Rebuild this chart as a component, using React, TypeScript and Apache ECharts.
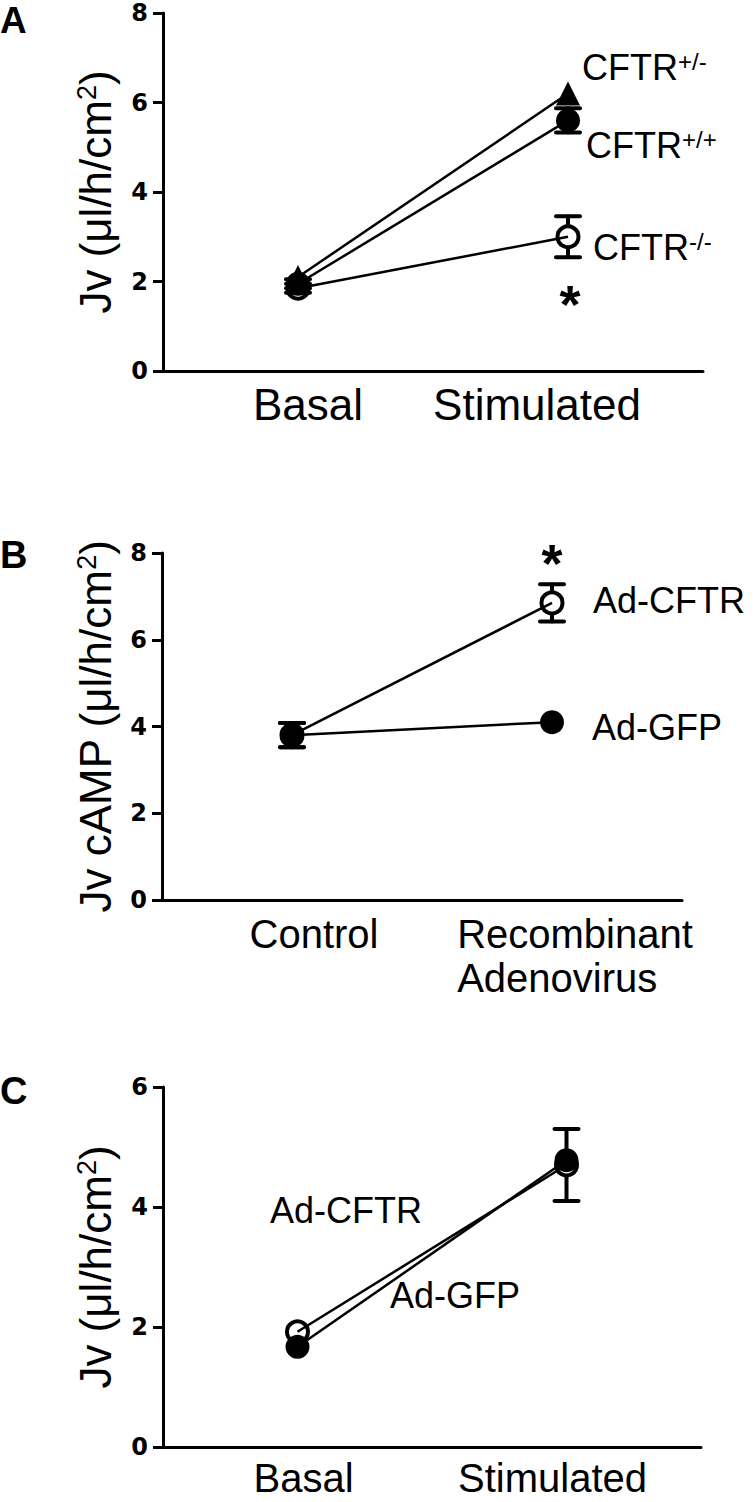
import React, { useEffect, useRef } from "react";
import * as echarts from "echarts";

// ---------- data ----------
const catsA = ["Basal", "Stimulated"];
const aWT = [1.95, 5.6];
const aWTErr = [0.1, 0.27];
const aHet = [2.1, 6.2];
const aHetErr = [0, 0];
const aKO = [1.85, 3.0];
const aKOErr = [0.1, 0.46];

const catsB = ["Control", "Recombinant\nAdenovirus"];
const bCFTR = [3.8, 6.85];
const bCFTRErr = [0.28, 0.43];
const bGFP = [3.8, 4.1];
const bGFPErr = [0.28, 0];

const catsC = ["Basal", "Stimulated"];
const cCFTR = [1.92, 4.7];
const cCFTRErr = [0, 0.6];
const cGFP = [1.67, 4.78];
const cGFPErr = [0, 0];

const ticksA = [0, 2, 4, 6, 8];
const ticksC = [0, 2, 4, 6];

const FONT = "'Liberation Sans', Arial, Helvetica, sans-serif";
const SYM = 24;
const R = SYM / 2;

function errData(means: number[], errs: number[]) {
  const out: number[][] = [];
  means.forEach((m, i) => {
    if (errs[i] > 0) out.push([i, m, errs[i]]);
  });
  return out;
}

function errRender(params: any, api: any) {
  const xi = api.value(0);
  const m = api.value(1);
  const e = api.value(2);
  const c = api.coord([xi, m]);
  const t = api.coord([xi, m + e]);
  const b = api.coord([xi, m - e]);
  const half = 12;
  const style = { stroke: "#000", lineWidth: 4, lineCap: "round" };
  const children: any[] = [
    { type: "line", shape: { x1: c[0] - half, y1: t[1], x2: c[0] + half, y2: t[1] }, style },
    { type: "line", shape: { x1: c[0] - half, y1: b[1], x2: c[0] + half, y2: b[1] }, style },
  ];
  if (t[1] < c[1] - R) {
    children.push({ type: "line", shape: { x1: c[0], y1: t[1], x2: c[0], y2: c[1] - R }, style });
  }
  if (b[1] > c[1] + R) {
    children.push({ type: "line", shape: { x1: c[0], y1: c[1] + R, x2: c[0], y2: b[1] }, style });
  }
  return { type: "group", children };
}

function lineSeries(idx: number, data: number[], kind: "filled" | "open" | "tri", z = 3) {
  const open = kind === "open";
  return {
    type: "line",
    xAxisIndex: idx,
    yAxisIndex: idx,
    data,
    symbol: kind === "tri" ? "triangle" : "circle",
    symbolSize: open ? SYM - 3 : SYM,
    lineStyle: { color: "#000", width: 2.5 },
    itemStyle: open
      ? { color: "rgba(255,255,255,0)", borderColor: "#000", borderWidth: 4 }
      : { color: "#000", borderWidth: 0 },
    z,
    silent: true,
  };
}

function errSeries(idx: number, means: number[], errs: number[]) {
  return {
    type: "custom",
    xAxisIndex: idx,
    yAxisIndex: idx,
    data: errData(means, errs),
    encode: { x: 0, y: 1 },
    renderItem: errRender,
    z: 4,
    silent: true,
  };
}

const axisLine = { show: true, lineStyle: { color: "#000", width: 3 } };

function yAxis(idx: number, max: number, name: string, gap: number) {
  return {
    type: "value",
    gridIndex: idx,
    min: 0,
    max,
    interval: 2,
    axisLine,
    axisTick: { show: true, length: 10, lineStyle: { color: "#000", width: 3 } },
    axisLabel: {
      color: "#000",
      fontSize: 24,
      lineHeight: 20,
      fontWeight: "bold",
      fontFamily: "'DejaVu Sans', sans-serif",
      margin: 15,
    },
    splitLine: { show: false },
    name,
    nameLocation: "middle",
    nameRotate: 90,
    nameGap: gap,
    nameTextStyle: {
      color: "#000",
      fontSize: 44,
      fontFamily: FONT,
      rich: {
        s: { fontSize: 27, fontFamily: FONT, color: "#000", verticalAlign: "top" },
      },
    },
  };
}

function xAxis(idx: number, cats: string[], fontSize: number, margin: number, pads: number[][], lineH: number) {
  const rich: any = {};
  pads.forEach((p, i) => {
    rich["l" + i] = {
      fontSize,
      fontFamily: FONT,
      color: "#000",
      padding: p,
      align: "left",
      lineHeight: lineH,
    };
  });
  return {
    type: "category",
    gridIndex: idx,
    data: cats,
    boundaryGap: true,
    axisLine,
    axisTick: { show: false },
    splitLine: { show: false },
    axisLabel: {
      interval: 0,
      margin,
      fontSize,
      fontFamily: FONT,
      color: "#000",
      formatter: (v: string, i: number) =>
        v
          .split("\n")
          .map((s) => `{l${i}|${s}}`)
          .join("\n"),
      rich,
    },
  };
}

function txt(x: number, y: number, text: string, fontSize: number, bold = false, rich?: any, align = "left", vAlign = "middle") {
  return {
    type: "text",
    x,
    y,
    silent: true,
    style: {
      text,
      fill: "#000",
      fontSize,
      fontFamily: FONT,
      fontWeight: bold ? "bold" : "normal",
      align,
      verticalAlign: vAlign,
      rich,
    },
  };
}

const supRich = {
  n: { fontSize: 36, fontFamily: FONT, color: "#000" },
  s: { fontSize: 24, fontFamily: FONT, color: "#000", verticalAlign: "top" },
};

export default function App() {
  const ref = useRef<HTMLDivElement>(null);
  useEffect(() => {
    if (!ref.current) return;
    const chart = echarts.init(ref.current, null, { renderer: "svg" });
    const option: any = {
      animation: false,
      backgroundColor: "#fff",
      grid: [
        { left: 163, top: 13, width: 540, height: 358 },
        { left: 162, top: 553, width: 520, height: 347 },
        { left: 163, top: 1087, width: 538, height: 360 },
      ],
      xAxis: [
        xAxis(0, catsA, 44, 10, [[0, 0, 0, 20], [0, 62, 0, 0]], 46),
        xAxis(1, catsB, 40, 12, [[0, 0, 0, 44], [0, 0, 0, 46]], 44),
        xAxis(2, catsC, 40, 16, [[0, 0, 0, 12], [0, 28, 0, 0]], 30),
      ],
      yAxis: [
        yAxis(0, ticksA[ticksA.length - 1], "Jv (μl/h/cm{s|2})", 46),
        yAxis(1, ticksA[ticksA.length - 1], "Jv cAMP (μl/h/cm{s|2})", 45),
        yAxis(2, ticksC[ticksC.length - 1], "Jv (μl/h/cm{s|2})", 46),
      ],
      series: [
        lineSeries(0, aKO, "open", 3),
        lineSeries(0, aWT, "filled", 4),
        lineSeries(0, aHet, "tri", 5),
        errSeries(0, aWT, aWTErr),
        errSeries(0, aKO, aKOErr),
        errSeries(0, aHet, aHetErr),
        lineSeries(1, bCFTR, "open", 3),
        lineSeries(1, bGFP, "filled", 4),
        errSeries(1, bCFTR, bCFTRErr),
        errSeries(1, bGFP, bGFPErr),
        lineSeries(2, cCFTR, "open", 3),
        lineSeries(2, cGFP, "filled", 4),
        errSeries(2, cCFTR, cCFTRErr),
        errSeries(2, cGFP, cGFPErr),
      ],
      graphic: [
        txt(0, 2, "A", 37, true, undefined, "left", "top"),
        txt(0, 555, "B", 38, true),
        txt(0, 1091, "C", 38, true),
        txt(582, 67, "{n|CFTR}{s|+/-}", 36, false, supRich),
        txt(586, 145, "{n|CFTR}{s|+/+}", 36, false, supRich),
        txt(593, 247, "{n|CFTR}{s|-/-}", 36, false, supRich),
        txt(570, 304, "*", 54, true, undefined, "center"),
        txt(593, 600, "Ad-CFTR", 36),
        txt(592, 727, "Ad-GFP", 36),
        txt(552, 563, "*", 54, true, undefined, "center"),
        txt(270, 1210, "Ad-CFTR", 36),
        txt(390, 1295, "Ad-GFP", 36),
      ],
    };
    chart.setOption(option);
    return () => chart.dispose();
  }, []);
  return (
    <div
      ref={ref}
      style={{ position: "absolute", left: 0, top: 0, width: 755, height: 1502, background: "#fff" }}
    />
  );
}
